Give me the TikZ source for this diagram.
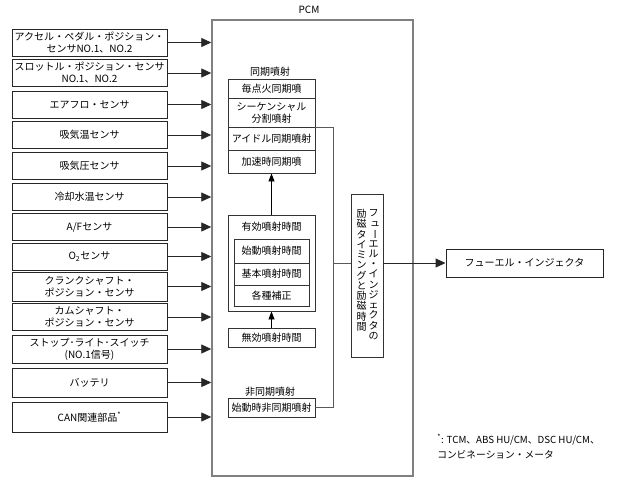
\documentclass[tikz,border=0pt]{standalone}
\usepackage{fontspec}
\setmainfont{Noto Sans CJK JP}
\usetikzlibrary{arrows.meta}

\begin{document}
\begin{tikzpicture}[x=0.75pt,y=0.75pt,yscale=-1,xscale=1,
  font=\fontsize{7.5}{9}\selectfont,
  sensor/.style={draw=black!85, line width=0.7pt, minimum width=116.25pt, minimum height=20.25pt, inner sep=0pt, align=center},
  cell/.style={draw=black!80, line width=0.7pt, minimum width=65.25pt, inner sep=0pt, align=center},
  subcell/.style={draw=black!80, line width=0.7pt, minimum width=56.25pt, inner sep=0pt, align=center},
  pcmbox/.style={draw=gray, line width=1.1pt, minimum width=150.75pt, minimum height=342pt, inner sep=0pt},
  tatecol/.style={anchor=north, inner sep=0pt, align=center, font=\fontsize{7.5}{7.7}\selectfont},
  inarrow/.style={draw=black!85, line width=0.7pt, -{Triangle[length=7.5pt,width=6.75pt]}},
  uparrow/.style={draw=black, line width=0.7pt, -{Triangle[length=6pt,width=4.5pt]}},
  wire/.style={draw=black!65, line width=0.7pt}
]
%set diagram: 617 x 479
\useasboundingbox (0,0) rectangle (617,479);

%Shape: PCM frame
\node (pcm) [pcmbox] at (312.5,248) {};
% Text Node
\node (pcmlabel) at (309,10) {PCM};

%Shapes: input sensors
\node (s1) [sensor] at (89.5,42.5) {アクセル・ペダル・ポジション・\\センサNO.1、NO.2};
\node (s2) [sensor] at (89.5,73) {スロットル・ポジション・センサ\\NO.1、NO.2};
\node (s3) [sensor] at (89.5,104.5) {エアフロ・センサ};
\node (s4) [sensor] at (89.5,135) {吸気温センサ};
\node (s5) [sensor] at (89.5,166) {吸気圧センサ};
\node (s6) [sensor] at (89.5,197) {冷却水温センサ};
\node (s7) [sensor] at (89.5,227) {A/Fセンサ};
\node (s8) [sensor] at (89.5,256.5) {O\textsubscript{2}センサ};
\node (s9) [sensor, minimum height=21.75pt] at (89.5,286.5) {クランクシャフト・\\ポジション・センサ};
\node (s10) [sensor] at (89.5,317) {カムシャフト・\\ポジション・センサ};
\node (s11) [sensor, minimum height=21pt] at (89.5,349) {ストップ･ライト･スイッチ\\(NO.1信号)};
\node (s12) [sensor, minimum height=21.75pt] at (89.5,382.5) {バッテリ};
\node (s13) [sensor, minimum height=22.5pt] at (89.5,417) {CAN関連部品\textsuperscript{*}};

%Straight Lines: sensor to PCM
\draw [inarrow] (s1.east) -- (s1.east -| pcm.west);
\draw [inarrow] (s2.east) -- (s2.east -| pcm.west);
\draw [inarrow] (s3.east) -- (s3.east -| pcm.west);
\draw [inarrow] (s4.east) -- (s4.east -| pcm.west);
\draw [inarrow] (s5.east) -- (s5.east -| pcm.west);
\draw [inarrow] (s6.east) -- (s6.east -| pcm.west);
\draw [inarrow] (s7.east) -- (s7.east -| pcm.west);
\draw [inarrow] (s8.east) -- (s8.east -| pcm.west);
\draw [inarrow] (s9.east) -- (s9.east -| pcm.west);
\draw [inarrow] (s10.east) -- (s10.east -| pcm.west);
\draw [inarrow] (s11.east) -- (s11.east -| pcm.west);
\draw [inarrow] (s12.east) -- (s12.east -| pcm.west);
\draw [inarrow] (s13.east) -- (s13.east -| pcm.west);

%Shapes: synchronous injection
\node (synclabel) at (270,72) {同期噴射};
\node (sr1) [cell, minimum height=14.25pt] at (271.5,88.5) {毎点火同期噴};
\node (sr2) [cell, minimum height=21.75pt] at (271.5,112.5) {シーケンシャル\\分割噴射};
\node (sr3) [cell, minimum height=17.25pt] at (271.5,138.5) {アイドル同期噴射};
\node (sr4) [cell, minimum height=17.25pt] at (271.5,161.5) {加速時同期噴};

%Shapes: effective injection time
\node (eff) [cell, minimum height=72pt] at (271.5,263) {};
\node (efflabel) at (271.5,227) {有効噴射時間};
\node (er1) [subcell, minimum height=18pt] at (271.5,251) {始動噴射時間};
\node (er2) [subcell, minimum height=16.5pt] at (271.5,274) {基本噴射時間};
\node (er3) [subcell, minimum height=15.75pt] at (271.5,295.5) {各種補正};

%Shape: invalid injection time
\node (inv) [cell, minimum height=14.25pt] at (271.5,337.5) {無効噴射時間};

%Shapes: asynchronous injection
\node (asynclabel) at (270,392) {非同期噴射};
\node (async) [cell, minimum height=14.25pt] at (271.5,407.5) {始動時非同期噴射};

%Straight Lines: up arrows
\draw [uparrow] (inv.north) -- (eff.south);
\draw [uparrow] (eff.north) -- (sr4.south);

%Shape: injector timing box (vertical text)
\node (vbox) [draw=black!80, line width=0.7pt, minimum width=24pt, minimum height=122.25pt, inner sep=0pt] at (367,275.5) {};
\node (vtext1) [tatecol] at (373.5,209) {フ\\\hspace*{.3em}ュ\\\rotatebox[origin=c]{-90}{ー}\\エ\\ル\\・\\イ\\ン\\ジ\\ェ\\ク\\タ\\の};
\node (vtext2) [tatecol] at (361.5,209) {励\\磁\\タ\\イ\\ミ\\ン\\グ\\と\\励\\磁\\時\\間};

%Straight Lines: collecting wire
\coordinate (bus) at (333,263);
\draw [wire] (sr2.south east) -| (bus);
\draw [wire] (async.east) -| (bus);
\draw [wire] (bus) -- (bus -| vbox.west);

%Shape: fuel injector
\node (inj) [sensor, minimum width=117.75pt, minimum height=21pt] at (524.5,263) {フューエル・インジェクタ};
\draw [inarrow] (vbox.east |- inj) -- (inj.west);

% Text Node
\node (note) [anchor=north west, inner sep=0pt, align=left, font=\fontsize{7.3}{11}\selectfont] at (437,434) {\textsuperscript{*}: TCM、ABS HU/CM、DSC HU/CM、\\コンビネーション・メータ};

\end{tikzpicture}
\end{document}
